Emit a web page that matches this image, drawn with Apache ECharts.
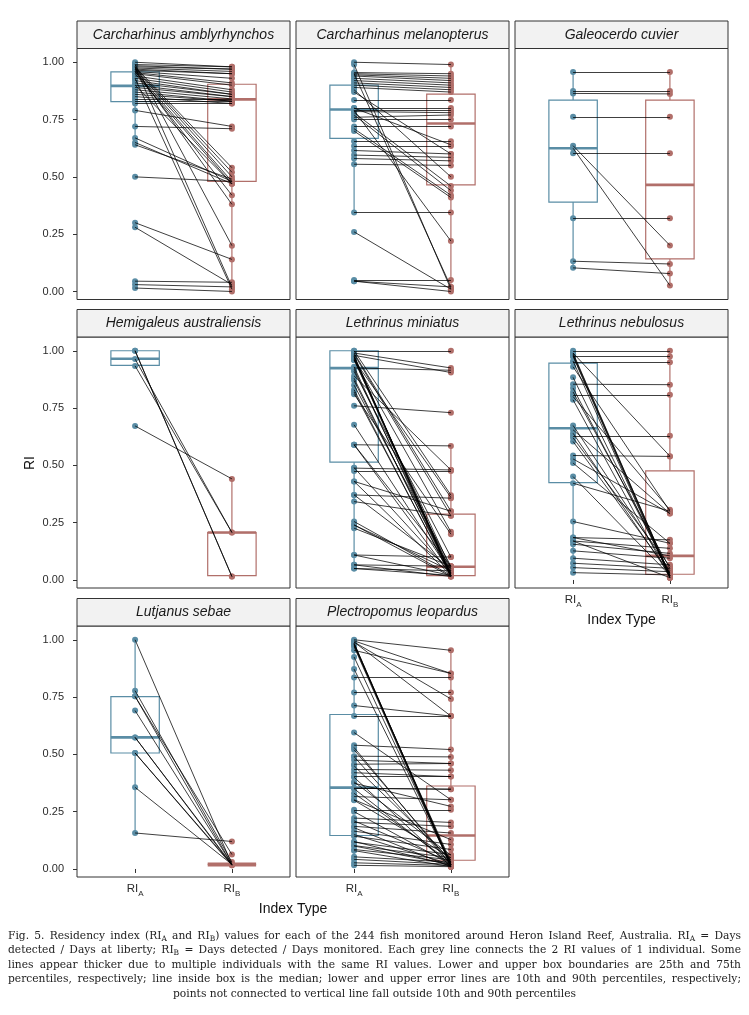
<!DOCTYPE html>
<html>
<head>
<meta charset="utf-8">
<script src="https://cdn.jsdelivr.net/npm/echarts@6/dist/echarts.min.js"></script>
<style>
  body { margin: 0; background: #fff; }
  #chart { position: absolute; left: 0; top: 0; width: 749px; height: 925px; }
  #caption { position: absolute; left: 8px; top: 928.5px; width: 733px;
    font-family: "DejaVu Serif", serif; font-size: 10.7px; line-height: 14.6px; color: #222; }
  #caption div { text-align: justify; text-align-last: justify; }
  #caption div.last { text-align: center; text-align-last: center; }
  #caption sub { font-size: 7.5px; vertical-align: -2px; line-height: 0; }
</style>
</head>
<body>
<div id="chart"></div>
<div id="caption">
  <div>Fig. 5. Residency index (RI<sub>A</sub> and RI<sub>B</sub>) values for each of the 244 fish monitored around Heron Island Reef, Australia. RI<sub>A</sub> = Days</div>
  <div>detected / Days at liberty; RI<sub>B</sub> = Days detected / Days monitored. Each grey line connects the 2 RI values of 1 individual. Some</div>
  <div>lines appear thicker due to multiple individuals with the same RI values. Lower and upper box boundaries are 25th and 75th</div>
  <div>percentiles, respectively; line inside box is the median; lower and upper error lines are 10th and 90th percentiles, respectively;</div>
  <div class="last">points not connected to vertical line fall outside 10th and 90th percentiles</div>
</div>
<script>
// species shown in the facets, in reading order
var species = ['Carcharhinus amblyrhynchos', 'Carcharhinus melanopterus', 'Galeocerdo cuvier',
    'Hemigaleus australiensis', 'Lethrinus miniatus', 'Lethrinus nebulosus',
    'Lutjanus sebae', 'Plectropomus leopardus'];
var indexTypes = ['A', 'B'];
var yTicks = [0, 0.25, 0.5, 0.75, 1];

// one [RI_A, RI_B] pair per individual
var amblyrhynchos = [[1.00,0.98],[0.99,0.98],[0.985,0.97],[0.98,0.97],[0.975,0.96],[0.97,0.95],[0.965,0.95],
    [0.96,0.93],[0.955,0.91],[0.95,0.90],[0.94,0.88],[0.93,0.87],[0.92,0.86],[0.91,0.86],[0.90,0.85],
    [0.89,0.85],[0.88,0.84],[0.87,0.83],[0.86,0.83],[0.85,0.82],[0.84,0.84],[0.83,0.83],[0.82,0.82],
    [0.98,0.54],[0.975,0.52],[0.97,0.50],[0.96,0.48],[0.95,0.47],[0.96,0.42],[0.97,0.38],[0.99,0.20],
    [0.98,0.02],[0.93,0.01],[0.90,0.47],[0.79,0.72],[0.72,0.71],[0.67,0.48],[0.65,0.47],[0.64,0.49],
    [0.50,0.48],[0.30,0.14],[0.28,0.03],[0.045,0.04],[0.03,0.02],[0.015,0.00]];
var melanopterus = [[1.00,0.99],[0.99,0.01],[0.955,0.95],[0.95,0.94],[0.945,0.93],[0.94,0.92],[0.93,0.91],
    [0.92,0.90],[0.91,0.89],[0.90,0.88],[0.89,0.87],[0.88,0.50],[0.87,0.60],[0.95,0.02],[0.835,0.835],
    [0.80,0.80],[0.79,0.79],[0.785,0.78],[0.78,0.46],[0.77,0.44],[0.76,0.77],[0.75,0.75],[0.72,0.72],
    [0.71,0.42],[0.70,0.41],[0.655,0.655],[0.635,0.635],[0.615,0.60],[0.595,0.585],[0.58,0.57],
    [0.555,0.55],[0.345,0.345],[0.26,0.01],[0.05,0.05],[0.045,0.02],[0.045,0.0],[0.79,0.22],[0.80,0.64]];
var galeocerdo = [[0.958,0.958],[0.875,0.875],[0.864,0.862],[0.762,0.762],[0.636,0.201],[0.625,0.026],
    [0.603,0.603],[0.320,0.320],[0.132,0.120],[0.103,0.078]];
var hemigaleus = [[1.0,0.015],[1.0,0.015],[0.964,0.207],[0.934,0.207],[0.672,0.441]];
var miniatus = [[1.00,1.00],[0.99,0.925],[0.98,0.905],[0.925,0.915],[0.76,0.73],[0.59,0.585],[0.488,0.48],
    [0.475,0.475],[0.371,0.357],[0.109,0.10],[0.066,0.06],[0.05,0.04],[1.00,0.37],[0.99,0.30],[0.985,0.28],
    [0.98,0.02],[0.975,0.02],[0.975,0.02],[0.97,0.03],[0.965,0.015],[0.96,0.05],[0.96,0.21],[0.93,0.02],
    [0.92,0.04],[0.91,0.10],[0.88,0.02],[0.87,0.03],[0.85,0.06],[0.83,0.015],[0.82,0.02],[0.81,0.20],
    [0.677,0.03],[0.59,0.02],[0.59,0.06],[0.49,0.03],[0.43,0.30],[0.43,0.02],[0.371,0.05],[0.342,0.28],
    [0.255,0.02],[0.24,0.04],[0.226,0.06],[0.24,0.015],[0.109,0.02],[0.066,0.015],[0.05,0.02],[0.96,0.36],
    [0.89,0.48]];
var nebulosus = [[1.0,1.0],[0.975,0.975],[0.95,0.95],[0.854,0.852],[0.808,0.808],[0.629,0.629],[0.543,0.539],
    [0.99,0.54],[0.99,0.02],[0.985,0.02],[0.98,0.015],[0.975,0.01],[0.93,0.30],[0.884,0.02],[0.837,0.03],
    [0.82,0.05],[0.80,0.306],[0.786,0.01],[0.674,0.04],[0.655,0.29],[0.64,0.02],[0.62,0.06],[0.604,0.03],
    [0.528,0.29],[0.51,0.16],[0.451,0.02],[0.422,0.30],[0.255,0.16],[0.185,0.175],[0.17,0.138],[0.156,0.116],
    [0.127,0.095],[0.095,0.066],[0.073,0.051],[0.054,0.036],[0.032,0.022],[0.17,0.01],[0.185,0.105],[0.955,0.01]];
var sebae = [[1.0,0.02],[0.778,0.03],[0.753,0.02],[0.753,0.063],[0.691,0.02],[0.574,0.02],[0.574,0.016],
    [0.506,0.02],[0.506,0.016],[0.356,0.02],[0.157,0.12]];
var leopardus = [[1.0,0.954],[0.995,0.853],[0.99,0.742],[0.99,0.667],[0.985,0.02],[0.985,0.015],[0.98,0.02],
    [0.98,0.01],[0.975,0.03],[0.97,0.01],[0.954,0.853],[0.925,0.02],[0.872,0.02],[0.835,0.835],[0.77,0.77],
    [0.713,0.667],[0.667,0.667],[0.595,0.302],[0.54,0.521],[0.53,0.02],[0.492,0.489],[0.475,0.46],[0.457,0.46],
    [0.434,0.431],[0.42,0.403],[0.403,0.403],[0.374,0.273],[0.352,0.348],[0.352,0.348],[0.316,0.302],
    [0.302,0.128],[0.258,0.258],[0.222,0.203],[0.203,0.186],[0.186,0.157],[0.165,0.107],[0.143,0.085],
    [0.117,0.063],[0.102,0.049],[0.085,0.04],[0.053,0.03],[0.042,0.02],[0.027,0.015],[0.016,0.01],
    [0.52,0.03],[0.49,0.02],[0.45,0.04],[0.40,0.01],[0.38,0.06],[0.35,0.02],[0.33,0.03],[0.30,0.05],
    [0.25,0.02],[0.21,0.03],[0.18,0.01],[0.15,0.02],[0.12,0.015],[0.10,0.02],[0.08,0.01]];

// box stats [p10, q1, median, q3, p90] for RI_A then RI_B
var amblyrhynchosBox = [[0.642,0.828,0.897,0.958,1.0],[0.03,0.48,0.838,0.904,0.98]];
var melanopterusBox = [[0.346,0.668,0.794,0.90,1.0],[0.02,0.465,0.733,0.861,0.994]];
var galeocerdoBox = [[0.103,0.39,0.625,0.835,0.958],[0.03,0.142,0.465,0.835,0.958]];
var hemigaleusBox = [[0.936,0.936,0.965,1.0,1.0],[0.015,0.019,0.207,0.207,0.441]];
var miniatusBox = [[0.05,0.514,0.924,1.0,1.0],[0.015,0.019,0.058,0.287,0.58]];
var nebulosusBox = [[0.032,0.425,0.662,0.946,1.0],[0.007,0.025,0.105,0.476,1.0]];
var sebaeBox = [[0.157,0.506,0.574,0.752,1.0],[0.02,0.02,0.02,0.02,0.02]];
var leopardusBox = [[0.016,0.146,0.355,0.674,1.0],[0.006,0.038,0.146,0.362,0.954]];

(function () {
    var pairs = [amblyrhynchos, melanopterus, galeocerdo, hemigaleus, miniatus, nebulosus, sebae, leopardus];
    var boxes = [amblyrhynchosBox, melanopterusBox, galeocerdoBox, hemigaleusBox, miniatusBox,
        nebulosusBox, sebaeBox, leopardusBox];

    var colA = '#5A8DA5';
    var colB = '#B16F6A';
    var colLeft = [77, 296, 515];
    var rowTop = [48.5, 337, 626];
    var panelW = 213, panelH = 251, stripH = 27.5;
    var font = 'Liberation Sans';

    function renderBox(params, api) {
        var x = api.value(0);
        var low = api.coord([x, api.value(1)]);
        var q1 = api.coord([x, api.value(2)]);
        var med = api.coord([x, api.value(3)]);
        var q3 = api.coord([x, api.value(4)]);
        var high = api.coord([x, api.value(5)]);
        var hw = api.size([0.25, 0])[0];
        var color = api.visual('color');
        // a box with no height is drawn as a thick bar, like the reference
        var medW = (q1[1] - q3[1]) < 1 ? 4 : 2.6;
        return {
            type: 'group',
            children: [
                {type: 'line', shape: {x1: low[0], y1: low[1], x2: q1[0], y2: q1[1]},
                    style: {stroke: color, lineWidth: 1.2}},
                {type: 'line', shape: {x1: q3[0], y1: q3[1], x2: high[0], y2: high[1]},
                    style: {stroke: color, lineWidth: 1.2}},
                {type: 'rect', shape: {x: q1[0] - hw, y: q3[1], width: 2 * hw, height: q1[1] - q3[1]},
                    style: {stroke: color, lineWidth: 1.2, fill: null}},
                {type: 'line', shape: {x1: med[0] - hw, y1: med[1], x2: med[0] + hw, y2: med[1]},
                    style: {stroke: color, lineWidth: medW}}
            ]
        };
    }

    function xLabel(v) {
        return '{m|RI}{s|' + indexTypes[Math.round(v) - 1] + '}';
    }
    function yLabel(v) {
        return v.toFixed(2);
    }

    var grids = [], xAxes = [], yAxes = [], series = [], graphics = [];
    for (var i = 0; i < species.length; i++) {
        var col = i % 3, row = Math.floor(i / 3);
        var gLeft = colLeft[col], gTop = rowTop[row];
        var showX = (i >= 5);
        var showY = (col === 0);
        grids.push({left: gLeft, top: gTop, width: panelW, height: panelH, show: true,
            borderColor: '#333', borderWidth: 1, backgroundColor: '#fff'});
        xAxes.push({
            gridIndex: i, type: 'value', min: 0.4, max: 2.6,
            splitLine: {show: false}, axisLine: {show: false},
            axisTick: {show: showX, customValues: [1, 2], length: 4, lineStyle: {color: '#333'}},
            axisLabel: {
                show: showX, customValues: [1, 2], margin: 6, formatter: xLabel,
                rich: {
                    m: {fontSize: 11.5, fontFamily: font, color: '#2b2b2b', verticalAlign: 'bottom', padding: [0, 0, 3, 0]},
                    s: {fontSize: 8, fontFamily: font, color: '#2b2b2b', verticalAlign: 'bottom'}
                }
            }
        });
        yAxes.push({
            gridIndex: i, type: 'value', min: -0.035, max: 1.06,
            splitLine: {show: false}, axisLine: {show: false},
            axisTick: {show: showY, customValues: yTicks, length: 4, lineStyle: {color: '#333'}},
            axisLabel: {show: showY, customValues: yTicks, margin: 13, fontSize: 11, fontFamily: font,
                color: '#2b2b2b', formatter: yLabel}
        });

        var data = pairs[i];
        series.push({
            type: 'custom', xAxisIndex: i, yAxisIndex: i, renderItem: renderBox, z: 1, silent: true,
            data: [
                {value: [1].concat(boxes[i][0]), itemStyle: {color: colA}},
                {value: [2].concat(boxes[i][1]), itemStyle: {color: colB}}
            ]
        });
        series.push({
            type: 'scatter', xAxisIndex: i, yAxisIndex: i, z: 2, symbolSize: 6, silent: true,
            itemStyle: {color: colA, opacity: 1},
            data: data.map(function (p) { return [1, p[0]]; })
        });
        series.push({
            type: 'scatter', xAxisIndex: i, yAxisIndex: i, z: 2, symbolSize: 6, silent: true,
            itemStyle: {color: colB, opacity: 1},
            data: data.map(function (p) { return [2, p[1]]; })
        });
        series.push({
            type: 'lines', coordinateSystem: 'cartesian2d', xAxisIndex: i, yAxisIndex: i, z: 3, silent: true,
            lineStyle: {color: '#000', width: 0.75, opacity: 1},
            data: data.map(function (p) { return {coords: [[1, p[0]], [2, p[1]]]}; })
        });

        graphics.push({
            type: 'rect', x: gLeft, y: gTop - stripH, silent: true,
            shape: {x: 0, y: 0, width: panelW, height: stripH},
            style: {fill: '#F2F2F2', stroke: '#333', lineWidth: 1}
        });
        graphics.push({
            type: 'text', x: gLeft + panelW / 2, y: gTop - stripH / 2, silent: true,
            style: {text: species[i], fontSize: 14, fontStyle: 'italic', fontFamily: font,
                fill: '#1a1a1a', align: 'center', verticalAlign: 'middle'}
        });
    }

    graphics.push({
        type: 'text', x: 30, y: 463, rotation: Math.PI / 2, silent: true,
        style: {text: 'RI', fontSize: 14, fontFamily: font, fill: '#111', align: 'center', verticalAlign: 'middle'}
    });
    graphics.push({
        type: 'text', x: colLeft[2] + panelW / 2, y: 620, silent: true,
        style: {text: 'Index Type', fontSize: 14, fontFamily: font, fill: '#111', align: 'center', verticalAlign: 'middle'}
    });
    graphics.push({
        type: 'text', x: (colLeft[0] + colLeft[1] + panelW) / 2, y: 909, silent: true,
        style: {text: 'Index Type', fontSize: 14, fontFamily: font, fill: '#111', align: 'center', verticalAlign: 'middle'}
    });

    var myChart = echarts.init(document.getElementById('chart'));
    myChart.setOption({
        animation: false,
        backgroundColor: '#fff',
        grid: grids,
        xAxis: xAxes,
        yAxis: yAxes,
        series: series,
        graphic: graphics
    });
})();
</script>
</body>
</html>
